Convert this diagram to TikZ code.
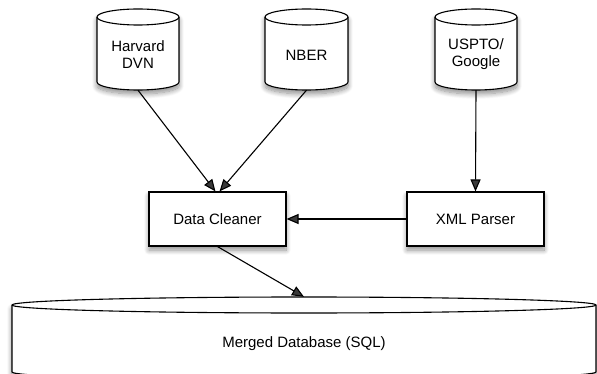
\documentclass[tikz,border=0pt]{standalone}
\usepackage{fontspec}
\setmainfont{Liberation Sans}
\usetikzlibrary{arrows.meta,shadows.blur}
\tikzset{
  x=1pt, y=1pt,
  base/.style={font=\fontsize{15}{17}\selectfont, align=center},
  shade/.style={blur shadow={shadow xshift=0pt, shadow yshift=-4pt, shadow blur radius=5pt, shadow opacity=45, shadow blur steps=10}},
  procbox/.style={base, draw, line width=1.1pt, fill=white, minimum width=137pt, minimum height=54pt, inner sep=0pt, shade},
  dbbox/.style={inner sep=0pt},
  cyl/.style={draw, line width=1.1pt, fill=white, shade},
  cylline/.style={draw, line width=1.1pt},
  flow/.style={-{Triangle[length=12pt,width=10pt]}, line width=1.1pt},
}
% #1 name, #2 centre x, #3 top y, #4 x radius, #5 height, #6 label shift, #7 text
\newcommand\dbcyl[7]{%
  \draw[cyl] (#2-#4,#3-8) -- (#2-#4,#3-#5+8)
    arc[start angle=180,end angle=360,x radius=#4pt,y radius=8pt]
    -- (#2+#4,#3-8)
    arc[start angle=0,end angle=180,x radius=#4pt,y radius=8pt] -- cycle;
  \draw[cylline] (#2-#4,#3-8) arc[start angle=180,end angle=360,x radius=#4pt,y radius=8pt];
  \node[dbbox, minimum width=2*#4, minimum height=#5,
        label={[base,yshift=#6]center:{#7}}] (#1) at (#2,#3-#5/2) {};
}
\begin{document}
\begin{tikzpicture}
\useasboundingbox (0,0) rectangle (597,-374);
\dbcyl{harvard}{138}{-9}{41}{81}{-5pt}{Harvard\\DVN}
\dbcyl{nber}{306.5}{-9}{41.5}{81}{-5.5pt}{NBER}
\dbcyl{uspto}{476}{-9}{41}{81}{-5pt}{USPTO/\\Google}
\dbcyl{merged}{304}{-297}{292}{83}{-5.5pt}{Merged Database (SQL)}
\node[procbox] (cleaner) at (217.5,-219) {Data Cleaner};
\node[procbox] (parser) at (475.5,-219) {XML Parser};
\draw[flow] (harvard.south) -- ([xshift=-2pt]cleaner.north);
\draw[flow] (nber.south) -- ([xshift=2pt]cleaner.north);
\draw[flow] (uspto.south) -- (parser.north);
\draw[flow] (parser.west) -- (cleaner.east);
\draw[flow] (cleaner.south) -- (merged.north);
\end{tikzpicture}
\end{document}
